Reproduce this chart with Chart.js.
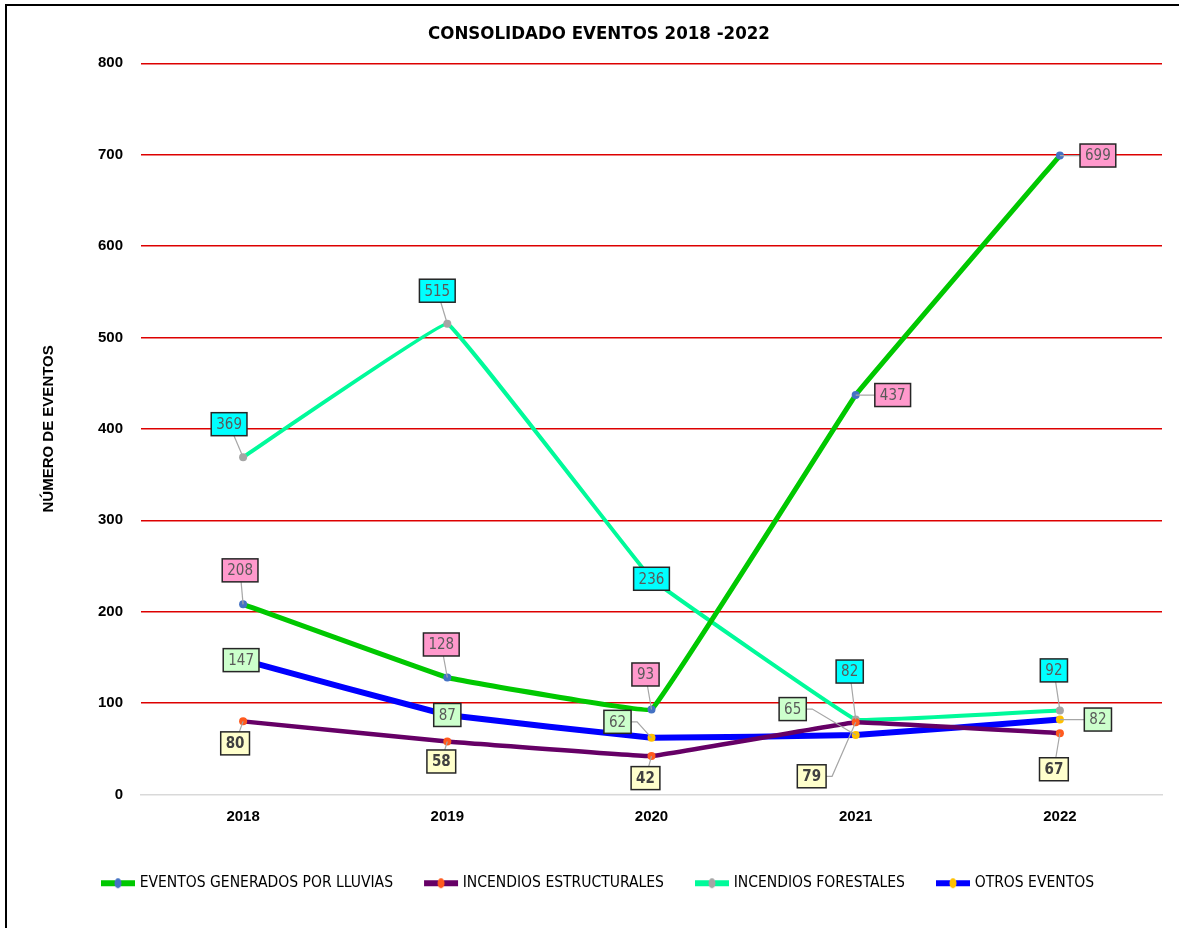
<!DOCTYPE html>
<html>
<head>
<meta charset="utf-8">
<script src="https://cdn.jsdelivr.net/npm/chart.js@4.4.1/dist/chart.umd.min.js"></script>
<style>
  html, body { margin: 0; padding: 0; background: #fff; overflow: hidden; }
  #chart { display: block; }
</style>
</head>
<body>
<canvas id="chart" width="1179" height="928"></canvas>
<script>
const years = ['2018', '2019', '2020', '2021', '2022'];
const lluvias = [208, 128, 93, 437, 699];
const estructurales = [80, 58, 42, 79, 67];
const forestales = [369, 515, 236, 82, 92];
const otros = [147, 87, 62, 65, 82];

// where each value box sits relative to its point (px)
const labelOffsets = [
  [[-3, -34], [-6, -33], [-6, -35], [37, 0], [38, 0]],
  [[-8, 22], [-6, 20], [-6, 22], [-44, 54], [-6, 36]],
  [[-14, -33], [-10, -33], [0, 0], [-6, -48], [-6, -40]],
  [[-2, 0], [0, 0], [-34, -16], [-63, -26], [38, 0]],
];

const series = [
  { label: 'EVENTOS GENERADOS POR LLUVIAS', data: lluvias, line: '#00c800', dot: '#4472c4', width: 5, box: '#ff99cc', text: '#595959', bold: false },
  { label: 'INCENDIOS ESTRUCTURALES', data: estructurales, line: '#660066', dot: '#ff5a1e', width: 4.5, box: '#ffffcc', text: '#404040', bold: true },
  { label: 'INCENDIOS FORESTALES', data: forestales, line: '#00fa9a', dot: '#a5a5a5', width: 4, box: '#00ffff', text: '#595959', bold: false },
  { label: 'OTROS EVENTOS', data: otros, line: '#0000ff', dot: '#ffc000', width: 6, box: '#ccffcc', text: '#595959', bold: false },
];

const font = "'Liberation Sans Narrow', 'DejaVu Sans Condensed', sans-serif";

function legendIcon(s) {
  const c = document.createElement('canvas');
  c.width = 36; c.height = 12;
  const g = c.getContext('2d');
  g.strokeStyle = s.line; g.lineWidth = 6;
  g.beginPath(); g.moveTo(1, 6); g.lineTo(35, 6); g.stroke();
  g.fillStyle = s.dot;
  g.beginPath(); g.ellipse(18, 6, 3.5, 5, 0, 0, Math.PI * 2); g.fill();
  return c;
}

// black frame on the left and top edges, like the pasted picture
const frame = {
  id: 'frame',
  beforeDraw(chart) {
    const ctx = chart.ctx;
    ctx.save();
    ctx.strokeStyle = '#000'; ctx.lineWidth = 2;
    ctx.beginPath();
    ctx.moveTo(6, chart.height); ctx.lineTo(6, 5); ctx.lineTo(chart.width, 5);
    ctx.stroke();
    ctx.restore();
  }
};

const valueBoxes = {
  id: 'valueBoxes',
  afterDatasetsDraw(chart) {
    const ctx = chart.ctx;
    ctx.save();
    chart.data.datasets.forEach((ds, i) => {
      const s = series[i];
      const meta = chart.getDatasetMeta(i);
      meta.data.forEach((pt, j) => {
        const [dx, dy] = labelOffsets[i][j];
        const cx = pt.x + dx, cy = pt.y + dy;
        const txt = String(ds.data[j]);
        ctx.font = (s.bold ? 'bold ' : '') + '15px ' + font;
        const w = ctx.measureText(txt).width + 10, h = 23;
        if (Math.hypot(dx, dy) > 18) {
          ctx.strokeStyle = '#a6a6a6'; ctx.lineWidth = 1.2;
          ctx.beginPath();
          if (Math.abs(dx) > 25 && Math.abs(dy) > 10) {
            const ex = dx < 0 ? cx + w / 2 : cx - w / 2;
            ctx.moveTo(ex, cy); ctx.lineTo(ex + (dx < 0 ? 6 : -6), cy);
            ctx.lineTo(pt.x, pt.y);
          } else {
            ctx.moveTo(cx, cy); ctx.lineTo(pt.x, pt.y);
          }
          ctx.stroke();
        }
        ctx.fillStyle = s.box;
        ctx.fillRect(cx - w / 2, cy - h / 2, w, h);
        ctx.strokeStyle = '#262626'; ctx.lineWidth = 1.5;
        ctx.strokeRect(cx - w / 2, cy - h / 2, w, h);
        ctx.fillStyle = s.text;
        ctx.textAlign = 'center'; ctx.textBaseline = 'middle';
        ctx.fillText(txt, cx, cy + 1);
      });
    });
    ctx.restore();
  }
};

new Chart(document.getElementById('chart'), {
  type: 'line',
  data: {
    labels: years,
    datasets: series.map(s => ({
      label: s.label,
      data: s.data,
      borderColor: s.line,
      backgroundColor: s.dot,
      borderWidth: s.width,
      pointRadius: 4,
      pointBorderWidth: 0,
      pointBackgroundColor: s.dot,
      pointStyle: 'circle',
      tension: 0.04,
    })),
  },
  options: {
    responsive: false,
    animation: false,
    layout: { padding: { top: 15, left: 36, right: 17, bottom: 27 } },
    plugins: {
      title: {
        display: true,
        text: 'CONSOLIDADO EVENTOS 2018 -2022',
        color: '#000',
        font: { family: font, size: 18.5, weight: 'bold' },
        padding: { top: 8, bottom: 18 },
      },
      legend: {
        position: 'bottom',
        labels: {
          usePointStyle: true,
          pointStyleWidth: 28,
          generateLabels: () => series.map((s, i) => ({
            text: s.label, pointStyle: legendIcon(s), datasetIndex: i,
            fontColor: '#000', lineWidth: 0, strokeStyle: 'transparent', fillStyle: 'transparent',
          })),
          color: '#000',
          font: { family: font, size: 15.5 },
          padding: 34,
        },
      },
      tooltip: { enabled: false },
    },
    scales: {
      x: {
        offset: true,
        grid: { display: false, drawTicks: false },
        border: { color: '#d9d9d9', width: 1.5 },
        ticks: { color: '#000', font: { family: 'Liberation Sans', size: 15, weight: 'bold' }, padding: 13 },
        afterFit: (sc) => { sc.height = 47; },
      },
      y: {
        min: 0, max: 800,
        ticks: { stepSize: 100, color: '#000', font: { family: 'Liberation Sans', size: 15, weight: 'bold' }, padding: 18 },
        grid: {
          color: (c) => c.tick && c.tick.value === 0 ? 'transparent' : '#dd0000',
          lineWidth: 1.4,
          drawTicks: false,
        },
        border: { display: false },
        title: {
          display: true,
          text: 'NÚMERO DE EVENTOS',
          color: '#000',
          font: { family: 'Liberation Sans', size: 15, weight: 'bold' },
          padding: { bottom: 12 },
        },
        afterFit: (sc) => { sc.width = 105; },
      },
    },
  },
  plugins: [frame, valueBoxes],
});
</script>
</body>
</html>
